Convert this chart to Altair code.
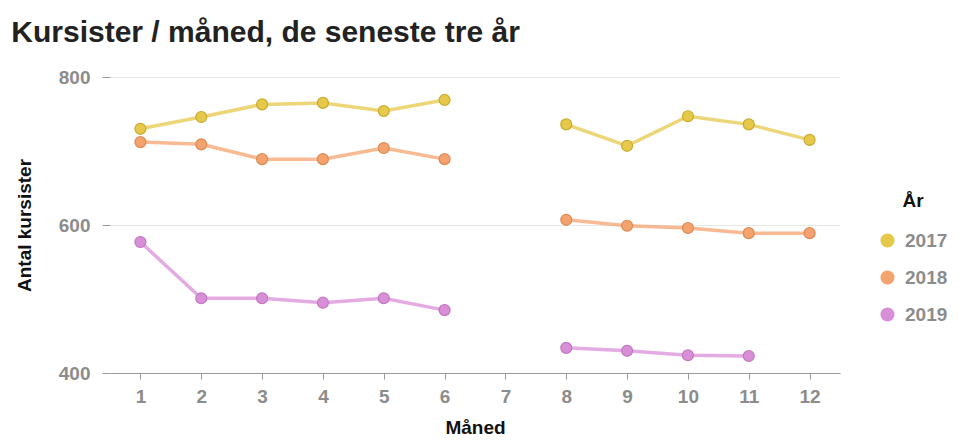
import altair as alt
import pandas as pd

months = [1, 2, 3, 4, 5, 6, 8, 9, 10, 11, 12]
v2017 = [730, 746, 763, 765, 754, 769, 736, 707, 747, 736, 715]
v2018 = [712, 709, 689, 689, 704, 689, 607, 599, 596, 589, 589]
months2019 = [1, 2, 3, 4, 5, 6, 8, 9, 10, 11]
v2019 = [577, 501, 501, 495, 501, 485, 434, 430, 424, 423]
years = ["2017", "2018", "2019"]
colors = ["#e6c84a", "#f4a36e", "#d98fd8"]
dark = ["#c9ab2e", "#dd8a55", "#c077bf"]
month_domain = list(range(1, 13))

rows = []
for yr, ms, vs in [("2017", months, v2017), ("2018", months, v2018), ("2019", months2019, v2019)]:
    for m, v in zip(ms, vs):
        rows.append({"Måned": m, "Antal": v, "År": yr, "seg": "a" if m < 7 else "b"})
df = pd.DataFrame(rows)

x = alt.X("Måned:O", scale=alt.Scale(domain=month_domain),
          axis=alt.Axis(title="Måned", labelAngle=0))
y = alt.Y("Antal:Q", scale=alt.Scale(domain=[400, 800]),
          axis=alt.Axis(title="Antal kursister", values=[400, 600, 800]))
color = alt.Color("År:N", scale=alt.Scale(domain=years, range=colors),
                  legend=alt.Legend(title="År", orient="none", legendX=768, legendY=115))

base = alt.Chart(df)
lines = base.mark_line(strokeWidth=3.5, opacity=0.75).encode(
    x=x, y=y, color=color, detail="seg:N")
points = base.mark_point(filled=True, size=120, opacity=1, strokeWidth=1.2).encode(
    x=x, y=y, color=color,
    stroke=alt.Stroke("År:N", scale=alt.Scale(domain=years, range=dark), legend=None))

chart = (lines + points).properties(
    width=730, height=296,
    title=alt.Title("Kursister / måned, de seneste tre år", anchor="start", frame="bounds",
                    fontSize=30, fontWeight="bold", color="#222", font="Liberation Sans",
                    offset=20, dx=-4),
    autosize=alt.AutoSizeParams(type="none"),
    padding={"left": 102, "top": 69, "right": 115, "bottom": 64},
).configure_view(stroke=None).configure_axis(
    labelFont="Liberation Sans", labelFontSize=19, labelFontWeight="bold", labelColor="#8c8c8c",
    titleFont="Liberation Sans", titleFontSize=19, titleFontWeight="bold", titleColor="#111",
    tickColor="#999", domainColor="#999", gridColor="#e8e8e8",
).configure_axisX(grid=False, labelPadding=8, titlePadding=12, tickSize=6
).configure_axisY(domain=False, tickSize=8, labelPadding=12, titlePadding=24
).configure_legend(
    titleFont="Liberation Sans", titleFontSize=19, titleFontWeight="bold", titleColor="#111",
    labelFont="Liberation Sans", labelFontSize=19, labelFontWeight="bold", labelColor="#8c8c8c",
    symbolSize=200, symbolType="circle", rowPadding=17, titlePadding=20, symbolOpacity=1,
    titleAnchor="middle", labelOffset=8, symbolStrokeWidth=0,
)

chart.save("out.html", embed_options={"renderer": "svg", "actions": False})
